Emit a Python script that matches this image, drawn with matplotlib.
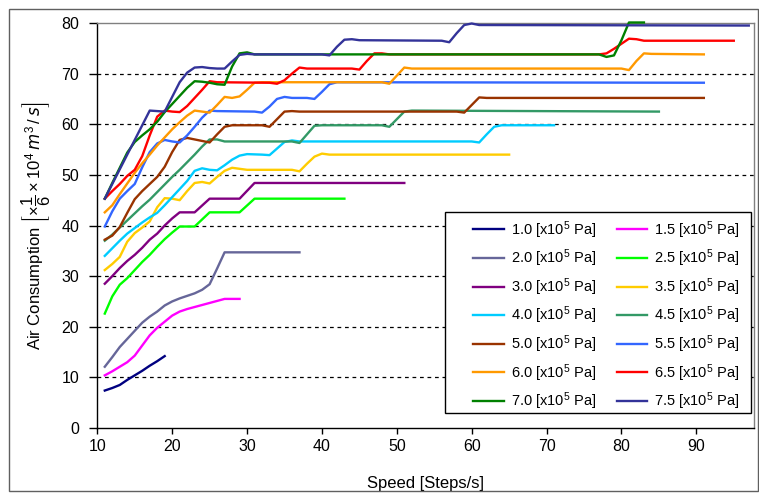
import matplotlib
matplotlib.use('Agg')
import matplotlib.pyplot as plt
from matplotlib.patches import Rectangle

plt.rcParams['font.family'] = ['Liberation Sans', 'DejaVu Sans']
plt.rcParams['mathtext.default'] = 'regular'

# pressure levels [x10^5 Pa] and readings (speed, air consumption)
pressures = ['1.0', '1.5', '2.0', '2.5', '3.0', '3.5', '4.0',
             '4.5', '5.0', '5.5', '6.0', '6.5', '7.0', '7.5']
colors = ['#000080', '#FF00FF', '#666699', '#00FF00', '#800080', '#FFCC00', '#00CCFF',
          '#339966', '#993300', '#3366FF', '#FF9900', '#FF0000', '#008000', '#333399']

x10 = [11, 12, 13, 14, 15, 16, 17, 18, 19]
y10 = [7.4, 7.9, 8.5, 9.5, 10.4, 11.3, 12.3, 13.2, 14.2]

x15 = [11, 12, 13, 14, 15, 16, 17, 18, 19, 20, 21, 22, 23, 24, 25, 26, 27, 29]
y15 = [10.4, 11.2, 12.1, 13.0, 14.3, 16.3, 18.3, 19.8, 21.0, 22.2, 23.0, 23.5, 23.9,
       24.3, 24.7, 25.1, 25.5, 25.5]

x20 = [11, 12, 13, 14, 15, 16, 17, 18, 19, 20, 21, 22, 23, 24, 25, 26, 27, 37]
y20 = [12.1, 14.0, 16.0, 17.6, 19.2, 20.8, 22.0, 23.0, 24.2, 25.0, 25.6, 26.1, 26.6,
       27.3, 28.4, 31.5, 34.7, 34.7]

x25 = [11, 12, 13, 14, 15, 16, 17, 18, 19, 20, 21, 23, 25, 29, 31, 43]
y25 = [22.6, 26.0, 28.3, 29.6, 31.2, 32.8, 34.2, 35.8, 37.3, 38.6, 39.8, 39.8, 42.6,
       42.6, 45.3, 45.3]

x30 = [11, 12, 13, 14, 15, 16, 17, 18, 19, 20, 21, 23, 25, 29, 31, 51]
y30 = [28.5, 30.0, 31.6, 33.0, 34.2, 35.6, 37.2, 38.4, 40.0, 41.4, 42.6, 42.6, 45.3,
       45.3, 48.4, 48.4]

x35 = [11, 12, 13, 14, 15, 16, 17, 18, 19, 20, 21, 22, 23, 24, 25, 26, 27, 28, 29, 30,
       36, 37, 38, 39, 40, 41, 65]
y35 = [31.2, 32.4, 33.8, 36.8, 38.5, 39.6, 40.8, 43.6, 45.4, 45.3, 45.0, 46.8, 48.4,
       48.6, 48.3, 49.6, 50.8, 51.4, 51.2, 51.0, 51.0, 50.7, 52.2, 53.6, 54.2, 54.0, 54.0]

x40 = [11, 12, 13, 14, 15, 16, 17, 18, 19, 20, 21, 22, 23, 24, 25, 26, 27, 28, 29, 30,
       32, 33, 34, 35, 36, 37, 60, 61, 62, 63, 64, 71]
y40 = [34.0, 35.5, 37.0, 38.4, 39.5, 40.6, 41.6, 42.5, 44.0, 45.6, 47.2, 48.8, 50.8,
       51.3, 51.0, 50.9, 51.9, 53.0, 53.8, 54.1, 54.0, 53.9, 55.2, 56.5, 56.8, 56.6,
       56.6, 56.4, 58.0, 59.5, 59.8, 59.8]

x45 = [11, 12, 13, 14, 15, 16, 17, 18, 19, 20, 21, 22, 23, 24, 25, 26, 27, 36, 37, 38,
       39, 40, 48, 49, 50, 51, 52, 85]
y45 = [37.0, 38.2, 39.6, 41.0, 42.4, 43.8, 45.1, 46.6, 48.1, 49.6, 51.0, 52.5, 54.0,
       55.6, 57.0, 57.0, 56.6, 56.6, 56.3, 58.0, 59.7, 59.8, 59.8, 59.5, 61.0, 62.5,
       62.7, 62.5]

x50 = [11, 12, 13, 14, 15, 16, 17, 18, 19, 20, 21, 22, 23, 24, 25, 26, 27, 28, 32, 33,
       34, 35, 36, 37, 58, 59, 60, 61, 62, 91]
y50 = [37.2, 38.0, 39.7, 42.5, 45.2, 46.8, 48.2, 49.6, 51.6, 54.5, 56.9, 57.3, 57.0,
       56.7, 56.4, 58.0, 59.5, 59.8, 59.8, 59.5, 61.0, 62.5, 62.6, 62.5, 62.5, 62.3,
       63.8, 65.3, 65.2, 65.2]

x55 = [11, 12, 13, 14, 15, 16, 17, 18, 19, 20, 21, 22, 23, 24, 25, 26, 31, 32, 33, 34,
       35, 36, 38, 39, 40, 41, 42, 91]
y55 = [39.8, 42.8, 45.3, 46.8, 48.2, 51.5, 54.5, 56.2, 56.9, 56.6, 56.4, 57.8, 59.5,
       61.3, 62.7, 62.6, 62.5, 62.3, 63.5, 65.0, 65.4, 65.2, 65.2, 65.0, 66.4, 67.9,
       68.3, 68.2]

x60 = [11, 12, 13, 14, 15, 16, 17, 18, 19, 20, 21, 22, 23, 24, 25, 26, 27, 28, 29, 30,
       31, 32, 48, 49, 50, 51, 52, 80, 81, 82, 83, 84, 91]
y60 = [42.6, 44.0, 46.2, 48.3, 50.4, 52.3, 54.0, 55.8, 57.4, 59.0, 60.4, 61.7, 62.7,
       62.5, 62.3, 63.8, 65.4, 65.2, 65.5, 66.8, 68.2, 68.3, 68.3, 68.0, 69.6, 71.2,
       71.0, 71.0, 70.7, 72.5, 74.0, 73.9, 73.8]

x65 = [11, 12, 13, 14, 15, 16, 17, 18, 19, 20, 21, 22, 23, 24, 25, 26, 33, 34, 35, 36,
       37, 38, 44, 45, 46, 47, 48, 49, 77, 78, 79, 80, 81, 82, 83, 95]
y65 = [45.3, 46.8, 48.2, 49.8, 51.0, 53.7, 57.8, 61.5, 62.7, 62.5, 62.4, 63.6, 65.2,
       66.8, 68.5, 68.3, 68.2, 68.0, 68.7, 70.0, 71.2, 71.0, 71.0, 70.8, 72.5, 74.0,
       74.0, 73.8, 73.8, 74.0, 74.9, 75.9, 76.9, 76.8, 76.5, 76.5]

x70 = [11, 12, 13, 14, 15, 16, 17, 18, 19, 20, 21, 22, 23, 24, 25, 26, 27, 28, 29, 30,
       31, 77, 78, 79, 80, 81, 83]
y70 = [45.3, 48.4, 51.4, 54.4, 56.5, 57.8, 59.0, 60.5, 62.4, 64.0, 65.6, 67.2, 68.5,
       68.4, 68.2, 67.9, 67.8, 71.4, 74.0, 74.2, 73.8, 73.8, 73.3, 73.6, 76.6, 80.1, 80.1]

x75 = [11, 12, 13, 14, 15, 16, 17, 18, 19, 20, 21, 22, 23, 24, 25, 26, 27, 28, 29, 30,
       31, 40, 41, 42, 43, 44, 45, 56, 57, 58, 59, 60, 61, 97]
y75 = [45.3, 48.2, 51.1, 54.0, 56.9, 59.8, 62.7, 62.6, 62.5, 65.4, 68.3, 70.2, 71.2,
       71.3, 71.1, 71.0, 71.0, 72.4, 73.7, 73.9, 73.8, 73.8, 73.6, 75.3, 76.7, 76.8,
       76.6, 76.5, 76.2, 78.0, 79.6, 79.9, 79.6, 79.5]

xs = [x10, x15, x20, x25, x30, x35, x40, x45, x50, x55, x60, x65, x70, x75]
ys = [y10, y15, y20, y25, y30, y35, y40, y45, y50, y55, y60, y65, y70, y75]

xticks = [10, 20, 30, 40, 50, 60, 70, 80, 90]
yticks = [0, 10, 20, 30, 40, 50, 60, 70, 80]

W, H = 759, 494
fig = plt.figure(figsize=(W / 100, H / 100), dpi=100)
ax = fig.add_axes([97.3 / W, 1 - 428 / H, (754 - 97.3) / W, (428 - 23) / H])

handles = []
for p, c, x, y in zip(pressures, colors, xs, ys):
    ln, = ax.plot(x, y, color=c, lw=1.7, clip_on=False, zorder=3,
                  label=p + r' [x10$^{5}$ Pa]')
    handles.append(ln)

ax.set_xlim(10, 97.7)
ax.set_ylim(0, 80)
ax.set_xticks(xticks)
ax.set_yticks(yticks)
ax.tick_params(axis='both', direction='out', labelsize=11.5, color='black', width=1)
ax.tick_params(axis='y', length=6, pad=7)
ax.tick_params(axis='x', length=4, pad=4)

for v in yticks[1:-1]:
    ax.axhline(v, color='black', lw=0.9, ls=(0, (3, 3)), zorder=1)

ax.spines['left'].set_color('black')
ax.spines['bottom'].set_color('black')
ax.spines['top'].set_color('#808080')
ax.spines['right'].set_color('#808080')
for s in ax.spines.values():
    s.set_linewidth(1)

ax.set_xlabel('Speed [Steps/s]', fontsize=12, labelpad=16)
ax.set_ylabel(r'Air Consumption $\left[\times\dfrac{1}{6}\times10^{4}\,\mathit{m}^{3}\,/\,\mathit{s}\right]$',
              fontsize=12, labelpad=6)

# legend box
box = Rectangle(((445 - 97.3) / 656.7, (428 - 413) / 405), (751 - 445) / 656.7, (413 - 212) / 405,
                transform=ax.transAxes, facecolor='white', edgecolor='black', lw=1, zorder=5)
ax.add_patch(box)
order = list(range(0, 14, 2)) + list(range(1, 14, 2))
leg = ax.legend([handles[i] for i in order], [handles[i].get_label() for i in order],
                ncol=2, loc='upper left', bbox_to_anchor=((473 - 97.3) / 656.7, (428 - 219) / 405),
                borderaxespad=0, borderpad=0, frameon=False, fontsize=10.5,
                handlelength=2.1, handletextpad=0.5, labelspacing=0.48, columnspacing=1.4)
leg.set_zorder(6)

frame = Rectangle((9 / W, 1 - 491 / H), (758 - 9) / W, (491 - 9) / H, transform=fig.transFigure,
                  fill=False, edgecolor='#606060', lw=1)
fig.patches.append(frame)

fig.savefig('out.png', dpi=100)
